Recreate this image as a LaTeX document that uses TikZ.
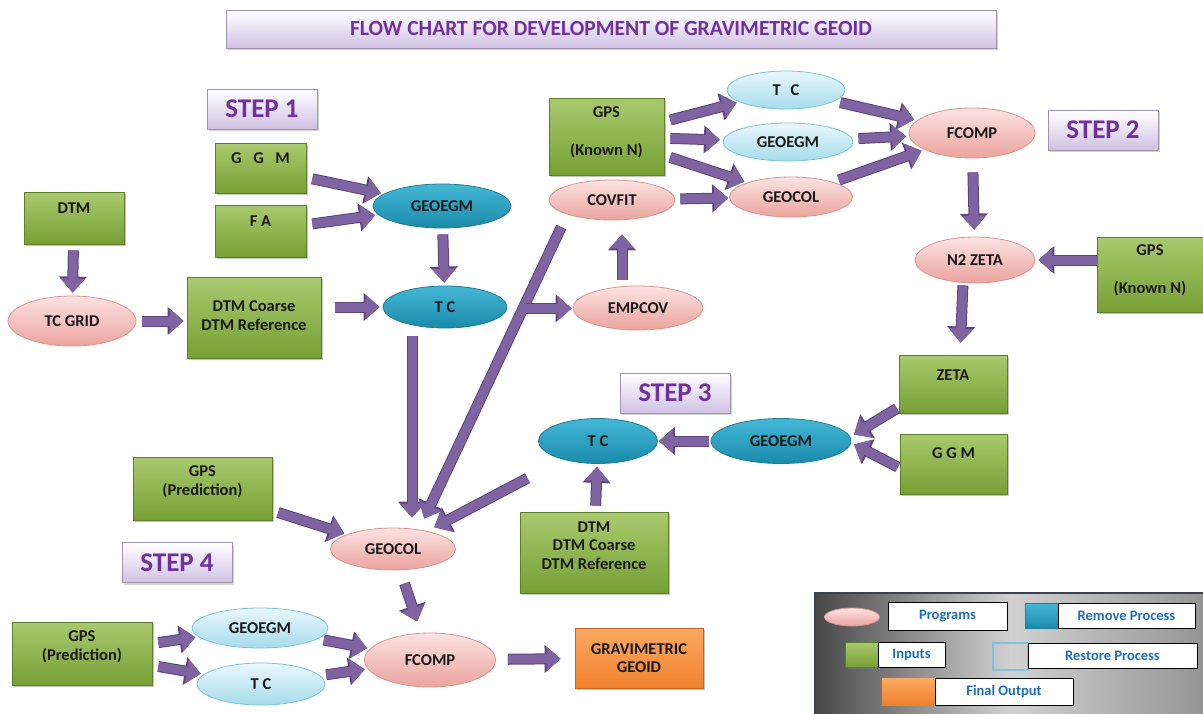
\documentclass[tikz,border=0pt]{standalone}
\usepackage{fontspec}
\setmainfont{Carlito}
\usetikzlibrary{arrows.meta,shadows,calc,shapes.geometric}

\definecolor{flowfill}{HTML}{8064A2}
\definecolor{flowedge}{HTML}{5C4580}
\definecolor{greentop}{HTML}{A9C96E}
\definecolor{greenbot}{HTML}{77A034}
\definecolor{greenedge}{HTML}{5E7F2A}
\definecolor{pinktop}{HTML}{FBE3E1}
\definecolor{pinkbot}{HTML}{EBA39E}
\definecolor{pinkedge}{HTML}{D9958F}
\definecolor{tealtop}{HTML}{45B8D6}
\definecolor{tealbot}{HTML}{1A8AA9}
\definecolor{tealedge}{HTML}{237C96}
\definecolor{skytop}{HTML}{EAF7FC}
\definecolor{skybot}{HTML}{A6DCEC}
\definecolor{skyedge}{HTML}{7CC3DA}
\definecolor{orangetop}{HTML}{FBAA62}
\definecolor{orangebot}{HTML}{F0802E}
\definecolor{orangeedge}{HTML}{C8641E}
\definecolor{lavender}{HTML}{D0C2E4}
\definecolor{stepedge}{HTML}{9E94B0}
\definecolor{steptext}{HTML}{7030A0}
\definecolor{keyblue}{HTML}{1F6DB5}
\definecolor{legedge}{HTML}{3A4150}

\tikzset{
  inbox/.style={rectangle, draw=greenedge, line width=.8pt, top color=greentop, bottom color=greenbot,
    align=center, inner sep=0pt, drop shadow={shadow xshift=2pt,shadow yshift=-2pt,opacity=.45}},
  outbox/.style={inbox, draw=orangeedge, top color=orangetop, bottom color=orangebot},
  prog/.style={ellipse, draw=pinkedge, line width=.8pt, top color=pinktop, bottom color=pinkbot, inner sep=0pt},
  remove/.style={ellipse, draw=tealedge, line width=.8pt, top color=tealtop, bottom color=tealbot, inner sep=0pt},
  restore/.style={ellipse, draw=skyedge, line width=.8pt, top color=skytop, bottom color=skybot, inner sep=0pt},
  stepbox/.style={rectangle, draw=stepedge, line width=.8pt, top color=white, bottom color=lavender,
    text=steptext, inner sep=0pt, font=\bfseries\fontsize{27}{30}\selectfont,
    minimum width=110, minimum height=40, drop shadow={shadow xshift=2pt,shadow yshift=-2pt,opacity=.35}},
  keybox/.style={rectangle, draw=black, line width=.8pt, fill=white, text=keyblue, inner sep=0pt,
    font=\bfseries\fontsize{14.5}{16}\selectfont},
  flow/.style={draw=flowfill, line width=9pt, -{Triangle[length=14pt,width=24pt]}, shorten <=6pt, shorten >=3pt,
    preaction={draw=flowedge, line width=11pt, -{Triangle[length=16pt,width=27pt]}}}
}

\begin{document}
\begin{tikzpicture}[x=1pt, y=-1pt, font=\bfseries\fontsize{16.5}{18.5}\selectfont, text=black!90]
    \useasboundingbox (0,0) rectangle (1203,713);

    % title and steps
    \node[stepbox, minimum width=770, minimum height=38, font=\bfseries\fontsize{21.5}{24}\selectfont] (title) at (611,29) {FLOW CHART FOR DEVELOPMENT OF GRAVIMETRIC GEOID};
    \node[stepbox] (stepa) at (262,109) {STEP 1};
    \node[stepbox] (stepb) at (1103,130) {STEP 2};
    \node[stepbox] (stepc) at (675,393) {STEP 3};
    \node[stepbox] (stepd) at (177,562.5) {STEP 4};

    % inputs
    \node[inbox, minimum width=100, minimum height=52, text depth=20pt] (dtm) at (74,218) {DTM};
    \node[inbox, minimum width=91, minimum height=50, text depth=20pt] (ggma) at (260.5,168) {G\hspace{.7em}G\hspace{.7em}M};
    \node[inbox, minimum width=91, minimum height=52, text depth=20pt] (fa) at (260.5,231) {F A};
    \node[inbox, minimum width=134, minimum height=81, text depth=4pt] (dtmcr) at (254,317.5) {DTM Coarse\\DTM Reference};
    \node[inbox, minimum width=115, minimum height=77, text depth=10pt] (gpsk) at (606.5,136.5) {GPS\\[19.5pt](Known N)};
    \node[inbox, minimum width=106, minimum height=75, text depth=10pt] (gpsr) at (1150,274.5) {GPS\\[19.5pt](Known N)};
    \node[inbox, minimum width=108, minimum height=58, text depth=18pt] (zeta) at (953,384) {ZETA};
    \node[inbox, minimum width=107, minimum height=60, text depth=22pt] (ggmc) at (953.5,464) {G G M};
    \node[inbox, minimum width=148, minimum height=81, text depth=14pt] (dtmc) at (594,552.5) {DTM\\DTM Coarse\\DTM Reference};
    \node[inbox, minimum width=139, minimum height=63, text depth=16pt] (gpspa) at (202.5,488.5) {GPS\\(Prediction)};
    \node[inbox, minimum width=140, minimum height=63, text depth=16pt] (gpspb) at (82,653.5) {GPS\\(Prediction)};
    \node[outbox, minimum width=128, minimum height=60] (grav) at (639,658) {GRAVIMETRIC\\GEOID};

    % programs
    \node[prog, minimum width=128, minimum height=50] (tcgrid) at (72,321) {TC GRID};
    \node[prog, minimum width=126, minimum height=40] (covfit) at (612,200) {COVFIT};
    \node[prog, minimum width=130, minimum height=44] (empcov) at (638,308) {EMPCOV};
    \node[prog, minimum width=123, minimum height=40] (geocola) at (791,197) {GEOCOL};
    \node[prog, minimum width=126, minimum height=50] (fcompa) at (972,133) {FCOMP};
    \node[prog, minimum width=120, minimum height=46] (ntozeta) at (975,260) {N2 ZETA};
    \node[prog, minimum width=125, minimum height=42] (geocolb) at (393,549) {GEOCOL};
    \node[prog, minimum width=131, minimum height=54] (fcompb) at (430,660) {FCOMP};

    % remove / restore
    \node[remove, minimum width=138, minimum height=44] (geoegma) at (442,206) {GEOEGM};
    \node[remove, minimum width=124, minimum height=42] (tca) at (445,307) {T C};
    \node[remove, minimum width=119, minimum height=45] (tcc) at (598,441) {T C};
    \node[remove, minimum width=140, minimum height=45] (geoegmc) at (781,441) {GEOEGM};
    \node[restore, minimum width=118, minimum height=38] (tcb) at (786,90) {T\hspace{.6em}C};
    \node[restore, minimum width=130, minimum height=38] (geoegmb) at (788,142) {GEOEGM};
    \node[restore, minimum width=136, minimum height=40] (geoegmd) at (260,628) {GEOEGM};
    \node[restore, minimum width=128, minimum height=42] (tcd) at (261,684) {T C};

    % step 1
    \draw[flow] (ggma) -- (geoegma);
    \draw[flow] (fa) -- (geoegma);
    \draw[flow] (dtm) -- (tcgrid);
    \draw[flow] (tcgrid) -- (tcgrid -| dtmcr.west);
    \draw[flow, shorten <=14pt] (tca.west -| dtmcr.east) -- (tca.west);
    \draw[flow] (geoegma) -- (tca);
    \draw[flow, shorten <=8pt, shorten >=10pt] ([xshift=-33pt]tca.south) -- ([xshift=-33pt]tca.south |- geocolb.north);
    \draw[flow, shorten <=14pt, shorten >=10pt] (covfit.south west) -- ([xshift=27pt]geocolb.north);
    \coordinate (split) at ($(covfit.south west)!0.3!([xshift=27pt]geocolb.north)$);
    \draw[flow, shorten <=3pt, shorten >=1pt] (split) -- (split -| empcov.west);

    % step 2
    \draw[flow, shorten >=14pt] ([xshift=-16pt]empcov.north) -- ([xshift=10pt]covfit.south);
    \draw[flow, shorten <=5pt, shorten >=1pt] (covfit) -- (geocola);
    \foreach \dst in {tcb,geoegmb,geocola} \draw[flow] (gpsk) -- (\dst);
    \foreach \src in {tcb,geoegmb,geocola} \draw[flow] (\src) -- (fcompa);
    \draw[flow, shorten <=14pt, shorten >=7pt] (fcompa) -- (ntozeta);
    \draw[flow, shorten <=0pt] (ntozeta.east -| gpsr.west) -- (ntozeta.east);
    \draw[flow, shorten <=2pt, shorten >=12pt] ([xshift=-12pt]ntozeta.south) -- ([xshift=7pt]zeta.north);

    % step 3
    \draw[flow, shorten <=2pt] ([yshift=6pt]zeta.south west) -- ([yshift=5pt]geoegmc.east);
    \draw[flow, shorten <=2pt] ([yshift=-4pt]ggmc.west) -- ([yshift=-2pt]geoegmc.east);
    \draw[flow, shorten <=2pt, shorten >=1pt] (geoegmc) -- (tcc);
    \draw[flow] (dtmc) -- (tcc);
    \draw[flow, shorten <=40pt, shorten >=8pt] (tcc) -- (geocolb);

    % step 4
    \draw[flow] (gpspa) -- (geocolb);
    \draw[flow, shorten <=14pt, shorten >=12pt] (geocolb) -- (fcompb);
    \foreach \dst in {geoegmd,tcd} \draw[flow] (gpspb) -- (\dst);
    \foreach \src in {geoegmd,tcd} \draw[flow] (\src) -- (fcompb);
    \draw[flow, shorten <=12pt, shorten >=14pt] (fcompb) -- (grav);

    % legend
    \node[draw=legedge, line width=1.5pt, left color=black!72, right color=black!42, middle color=black!18,
      minimum width=392, minimum height=124, anchor=north west, inner sep=0pt] (legend) at (814,592) {};
    \node[prog, minimum width=55, minimum height=18] (keyprog) at (852,617) {};
    \node[keybox, minimum width=119, minimum height=28] (keyproga) at (947.5,616) {Programs};
    \node[remove, rectangle, minimum width=33, minimum height=25] (keyrem) at (1041.5,615.5) {};
    \node[keybox, minimum width=137, minimum height=25] (keyrema) at (1126.5,615.5) {Remove Process};
    \node[inbox, minimum width=33, minimum height=25, drop shadow={opacity=0}] (keyin) at (861.5,654.5) {};
    \node[keybox, minimum width=67, minimum height=25] (keyina) at (911.5,654.5) {Inputs};
    \node[rectangle, draw=skyedge, line width=2pt, minimum width=35, minimum height=27] (keyres) at (1010.5,656.5) {};
    \node[keybox, minimum width=169, minimum height=25] (keyresa) at (1112.5,655.5) {Restore Process};
    \node[rectangle, top color=orangetop, bottom color=orangebot, minimum width=53, minimum height=27] (keyout) at (908.5,691.5) {};
    \node[keybox, minimum width=138, minimum height=27] (keyouta) at (1004,691.5) {Final Output};
\end{tikzpicture}
\end{document}
